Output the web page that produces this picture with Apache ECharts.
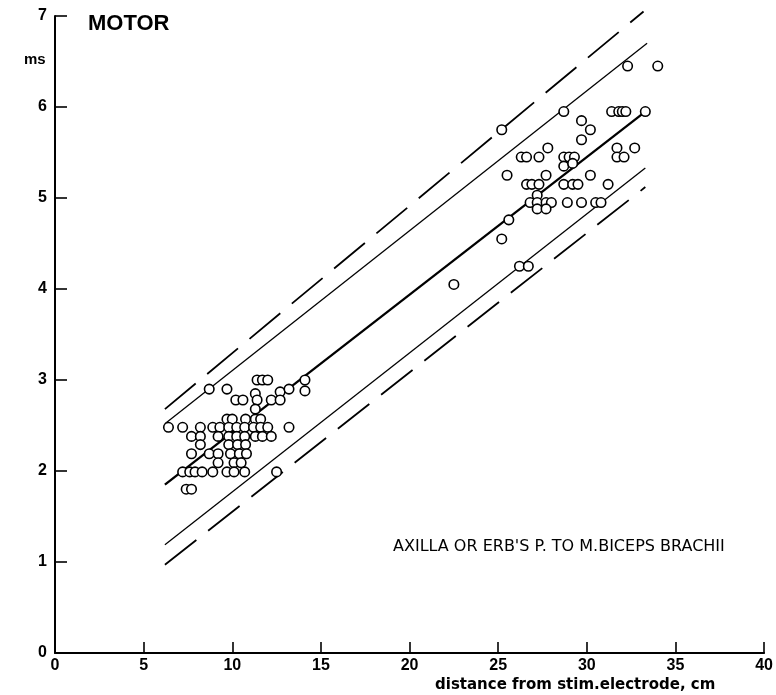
<!DOCTYPE html>
<html>
<head>
<meta charset="utf-8">
<script src="https://cdn.jsdelivr.net/npm/echarts@6/dist/echarts.min.js"></script>
<style>html,body{margin:0;padding:0;background:#fff}#c{width:776px;height:695px}</style>
</head>
<body>
<div id="c"></div>
<script>
// Distance (cm) and motor latency (ms) of each subject
const distX = [
  11.4,11.7,12.0,14.1,
  8.7,9.7,11.3,12.7,13.2,14.1,
  10.2,10.6,11.4,12.2,12.7,
  11.3,
  9.7,10.0,10.75,11.3,11.6,
  6.4,7.2,8.2,8.9,9.3,9.8,10.25,10.7,11.2,11.6,12.0,13.2,
  7.7,8.2,9.2,9.8,10.25,10.7,11.3,11.7,12.2,
  8.2,9.8,10.3,10.75,
  7.7,8.7,9.2,9.9,10.4,10.8,
  9.2,10.1,10.5,
  7.2,7.6,7.9,8.3,8.9,9.7,10.1,10.7,12.5,
  7.4,7.7,
  22.5,
  25.2,28.7,31.4,31.8,32.0,32.2,33.3,
  29.7,30.2,29.7,
  31.7,32.7,31.7,32.1,
  26.3,26.6,27.3,27.8,
  28.7,29.0,29.3,28.7,29.2,
  25.5,27.7,30.2,
  26.6,26.9,27.3,28.7,29.2,29.5,31.2,
  27.2,26.8,27.2,27.7,28.0,27.2,27.7,
  28.9,29.7,30.5,30.8,
  25.6,25.2,26.2,26.7,
  32.3,34.0
];
const latencyY = [
  3.0,3.0,3.0,3.0,
  2.9,2.9,2.85,2.87,2.9,2.88,
  2.78,2.78,2.78,2.78,2.78,
  2.68,
  2.57,2.57,2.57,2.57,2.57,
  2.48,2.48,2.48,2.48,2.48,2.48,2.48,2.48,2.48,2.48,2.48,2.48,
  2.38,2.38,2.38,2.38,2.38,2.38,2.38,2.38,2.38,
  2.29,2.29,2.29,2.29,
  2.19,2.19,2.19,2.19,2.19,2.19,
  2.09,2.09,2.09,
  1.99,1.99,1.99,1.99,1.99,1.99,1.99,1.99,1.99,
  1.8,1.8,
  4.05,
  5.75,5.95,5.95,5.95,5.95,5.95,5.95,
  5.85,5.75,5.64,
  5.55,5.55,5.45,5.45,
  5.45,5.45,5.45,5.55,
  5.45,5.45,5.45,5.35,5.38,
  5.25,5.25,5.25,
  5.15,5.15,5.15,5.15,5.15,5.15,5.15,
  5.03,4.95,4.95,4.95,4.95,4.88,4.88,
  4.95,4.95,4.95,4.95,
  4.76,4.55,4.25,4.25,
  6.45,6.45
];
// Regression line and limits (end points)
const regressionLine = [[6.2,1.85],[33.3,5.95]];
const upperLimit = [[6.2,2.52],[33.4,6.7]];
const lowerLimit = [[6.2,1.19],[33.3,5.33]];
const upperDashed = [[6.2,2.68],[33.2,7.05]];
const lowerDashed = [[6.2,0.97],[33.3,5.12]];
const xTicks = [0,5,10,15,20,25,30,35,40];
const yTicks = [0,1,2,3,4,5,6,7];

const points = distX.map((x,i)=>[x, latencyY[i]]);
const chart = echarts.init(document.getElementById('c'));
const axisFont = {color:'#000', fontFamily:'Liberation Sans', fontWeight:'bold', fontSize:16};
const lineSeries = (data, w, type) => ({
  type:'line', data, symbol:'none', silent:true, clip:false, z:2,
  lineStyle:{color:'#000', width:w, type:type}
});
chart.setOption({
  animation:false,
  backgroundColor:'#fff',
  grid:{left:55, right:9, top:16, bottom:42},
  xAxis:{
    type:'value', min:xTicks[0], max:xTicks[xTicks.length-1], interval:5,
    axisLine:{lineStyle:{color:'#000', width:2}},
    axisTick:{inside:true, length:11, lineStyle:{color:'#000', width:1.6}},
    axisLabel:{...axisFont, margin:5},
    splitLine:{show:false}
  },
  yAxis:{
    type:'value', min:yTicks[0], max:yTicks[yTicks.length-1], interval:1,
    axisLine:{lineStyle:{color:'#000', width:2}},
    axisTick:{inside:true, length:12, lineStyle:{color:'#000', width:1.6}},
    axisLabel:{...axisFont, margin:8},
    splitLine:{show:false}
  },
  series:[
    lineSeries(upperDashed, 1.8, [40,15]),
    lineSeries(lowerDashed, 1.8, [40,15]),
    lineSeries(upperLimit, 1.3, 'solid'),
    lineSeries(lowerLimit, 1.3, 'solid'),
    lineSeries(regressionLine, 2.3, 'solid'),
    {
      type:'scatter', data:points, symbol:'circle', symbolSize:9.5, z:5,
      itemStyle:{color:'#fff', borderColor:'#000', borderWidth:1.6, opacity:1}
    }
  ],
  graphic:[
    {type:'text', left:88, top:13, style:{text:'MOTOR', fill:'#000', font:'bold 22px "Liberation Sans"'}},
    {type:'text', left:24, top:52, style:{text:'ms', fill:'#000', font:'bold 15px "Liberation Sans"'}},
    {type:'text', left:393, top:539, style:{text:"AXILLA OR ERB'S P. TO M.BICEPS BRACHII", fill:'#000', font:'16px "DejaVu Sans"'}},
    {type:'text', left:435, top:678, style:{text:'distance from stim.electrode, cm', fill:'#000', font:'bold 15px "DejaVu Sans"'}}
  ]
});
</script>
</body>
</html>
